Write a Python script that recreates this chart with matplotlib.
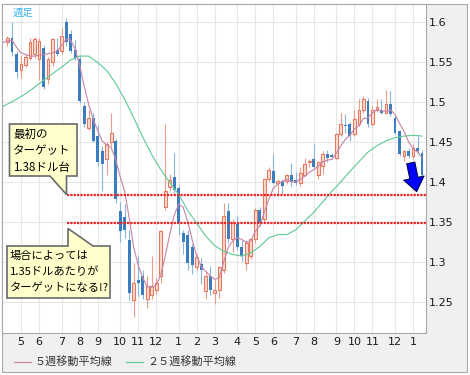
import numpy as np
import matplotlib
matplotlib.use('Agg')
import matplotlib.pyplot as plt
from matplotlib.patches import Rectangle, Polygon
from matplotlib.lines import Line2D

plt.rcParams['font.family'] = ['Noto Sans CJK JP', 'DejaVu Sans']

# ── weekly candles (index 0 = week of 2008/4/14) ──
opens = [1.574, 1.580, 1.560, 1.540, 1.546, 1.555, 1.560, 1.553, 1.567, 1.528,
         1.549, 1.565, 1.563, 1.599, 1.584, 1.565, 1.553, 1.494, 1.467, 1.480,
         1.457, 1.438, 1.428, 1.449, 1.451, 1.363, 1.356, 1.327, 1.252, 1.277,
         1.282, 1.253, 1.259, 1.265, 1.282, 1.369, 1.394, 1.406, 1.392, 1.336,
         1.333, 1.319, 1.294, 1.297, 1.263, 1.282, 1.261, 1.265, 1.290, 1.363,
         1.328, 1.347, 1.319, 1.298, 1.307, 1.328, 1.365, 1.353, 1.403, 1.413,
         1.398, 1.401, 1.401, 1.408, 1.402, 1.399, 1.409, 1.424, 1.428, 1.409,
         1.420, 1.434, 1.433, 1.430, 1.459, 1.471, 1.472, 1.459, 1.472, 1.490,
         1.501, 1.472, 1.489, 1.490, 1.486, 1.497, 1.480, 1.463, 1.432, 1.438,
         1.432, 1.442, 1.436]
highs = [1.582, 1.600, 1.563, 1.558, 1.560, 1.579, 1.581, 1.579, 1.571, 1.556,
         1.580, 1.580, 1.592, 1.604, 1.590, 1.577, 1.557, 1.500, 1.490, 1.486,
         1.471, 1.444, 1.449, 1.486, 1.453, 1.375, 1.372, 1.340, 1.298, 1.307,
         1.290, 1.282, 1.307, 1.280, 1.340, 1.472, 1.410, 1.436, 1.396, 1.340,
         1.340, 1.322, 1.310, 1.305, 1.288, 1.295, 1.277, 1.295, 1.374, 1.374,
         1.353, 1.357, 1.327, 1.327, 1.330, 1.367, 1.369, 1.405, 1.418, 1.434,
         1.403, 1.403, 1.410, 1.423, 1.412, 1.418, 1.430, 1.428, 1.447, 1.426,
         1.438, 1.440, 1.436, 1.461, 1.486, 1.485, 1.474, 1.490, 1.503, 1.507,
         1.505, 1.494, 1.503, 1.503, 1.515, 1.513, 1.484, 1.465, 1.440, 1.442,
         1.447, 1.457, 1.440]
lows = [1.570, 1.557, 1.530, 1.529, 1.543, 1.552, 1.555, 1.527, 1.516, 1.522,
        1.545, 1.557, 1.560, 1.570, 1.561, 1.552, 1.498, 1.468, 1.465, 1.449,
        1.420, 1.388, 1.409, 1.445, 1.374, 1.325, 1.330, 1.252, 1.231, 1.257,
        1.253, 1.242, 1.253, 1.260, 1.274, 1.365, 1.388, 1.386, 1.333, 1.310,
        1.290, 1.285, 1.290, 1.272, 1.253, 1.259, 1.247, 1.255, 1.286, 1.324,
        1.312, 1.315, 1.301, 1.290, 1.304, 1.324, 1.345, 1.349, 1.401, 1.397,
        1.382, 1.385, 1.397, 1.395, 1.396, 1.395, 1.407, 1.418, 1.416, 1.404,
        1.410, 1.424, 1.428, 1.428, 1.457, 1.461, 1.451, 1.457, 1.469, 1.486,
        1.468, 1.469, 1.487, 1.484, 1.484, 1.482, 1.459, 1.432, 1.426, 1.429,
        1.428, 1.436, 1.406]
closes = [1.579, 1.562, 1.537, 1.547, 1.556, 1.575, 1.578, 1.576, 1.518, 1.553,
          1.578, 1.559, 1.582, 1.574, 1.563, 1.555, 1.501, 1.472, 1.480, 1.451,
          1.424, 1.422, 1.447, 1.461, 1.378, 1.338, 1.340, 1.261, 1.273, 1.274,
          1.259, 1.270, 1.270, 1.274, 1.338, 1.389, 1.402, 1.390, 1.350, 1.325,
          1.298, 1.296, 1.306, 1.290, 1.282, 1.265, 1.265, 1.293, 1.357, 1.328,
          1.349, 1.318, 1.307, 1.324, 1.328, 1.365, 1.349, 1.403, 1.415, 1.399,
          1.401, 1.395, 1.408, 1.400, 1.398, 1.411, 1.422, 1.426, 1.418, 1.424,
          1.434, 1.430, 1.431, 1.459, 1.472, 1.469, 1.457, 1.478, 1.490, 1.503,
          1.472, 1.490, 1.493, 1.486, 1.497, 1.484, 1.461, 1.434, 1.438, 1.432,
          1.442, 1.438, 1.409]

# 5週移動平均線, weeks -1..92
ma5 = [1.574, 1.576, 1.577, 1.568, 1.561, 1.559, 1.557, 1.557, 1.558, 1.559, 1.560,
       1.561, 1.563, 1.570, 1.578, 1.577, 1.566, 1.546, 1.520, 1.497, 1.478,
       1.464, 1.451, 1.446, 1.443, 1.428, 1.406, 1.388, 1.355, 1.318, 1.296,
       1.280, 1.269, 1.268, 1.271, 1.283, 1.307, 1.334, 1.358, 1.372, 1.368,
       1.350, 1.327, 1.307, 1.294, 1.288, 1.282, 1.278, 1.280, 1.300, 1.318,
       1.326, 1.330, 1.328, 1.324, 1.326, 1.338, 1.345, 1.362, 1.378, 1.392,
       1.397, 1.400, 1.403, 1.400, 1.400, 1.403, 1.407, 1.412, 1.415, 1.420,
       1.425, 1.427, 1.428, 1.436, 1.445, 1.453, 1.458, 1.466, 1.470, 1.479,
       1.480, 1.486, 1.490, 1.489, 1.488, 1.490, 1.484, 1.473, 1.463, 1.450,
       1.441, 1.437, 1.430]
ma5_week = list(range(-1, 93))

# 25週移動平均線
ma25_week = [-1, 2, 4, 6, 9, 12, 14, 16, 18, 20, 22, 24, 26, 28, 30, 32, 34, 36, 38,
             40, 42, 44, 46, 48, 50, 52, 54, 56, 58, 60, 62, 64, 66, 68, 70, 72, 74,
             76, 78, 80, 82, 84, 86, 88, 90, 92]
ma25 = [1.494, 1.503, 1.510, 1.518, 1.531, 1.543, 1.552, 1.557, 1.557, 1.549, 1.539,
        1.523, 1.503, 1.480, 1.456, 1.434, 1.415, 1.399, 1.384, 1.364, 1.348, 1.332,
        1.320, 1.313, 1.309, 1.307, 1.311, 1.319, 1.330, 1.334, 1.334, 1.340, 1.351,
        1.362, 1.375, 1.388, 1.400, 1.413, 1.425, 1.437, 1.445, 1.451, 1.455, 1.457,
        1.458, 1.457]

month_week = [3, 7, 12, 16, 20, 25, 29, 33, 38, 42, 46, 51, 55, 59, 64, 68, 73, 77, 81, 86, 90]
month_lbl = ['5', '6', '7', '8', '9', '10', '11', '12', '1', '2', '3', '4',
             '5', '6', '7', '8', '9', '10', '11', '12', '1']
price_ticks = [1.25, 1.3, 1.35, 1.4, 1.45, 1.5, 1.55, 1.6]
price_lbl = ['1.25', '1.3', '1.35', '1.4', '1.45', '1.5', '1.55', '1.6']
target_levels = [1.384, 1.349]

UP_EDGE, UP_FILL, UP_WICK = '#e27a62', '#fbdcd1', '#eb9c8b'
DN_BODY, DN_WICK = '#3b7dbf', '#86b5dd'
MA5_COL, MA25_COL = '#c888a8', '#66cc99'

W, H = 470, 375
def px(x, y):
    return (x / W, 1 - y / H)

fig = plt.figure(figsize=(4.7, 3.75), dpi=100, facecolor='white')
fig.patches.append(Rectangle(px(2, 372), 465 / W, 368 / H, transform=fig.transFigure,
                             facecolor='#f0f0f0', edgecolor='#a8a8a8', lw=0.8, zorder=-5))
ax = fig.add_axes([2 / W, 42 / H, 424 / W, 329 / H])
ax.set_facecolor('white')

wk = np.arange(len(opens))
o, h, l, c = map(np.array, (opens, highs, lows, closes))
up = c >= o

# candles
ax.vlines(wk[up], l[up], h[up], color=UP_WICK, lw=0.8, zorder=2)
ax.vlines(wk[~up], l[~up], h[~up], color=DN_WICK, lw=0.8, zorder=2)
ax.bar(wk[up], c[up] - o[up], bottom=o[up], width=0.64, facecolor=UP_FILL,
       edgecolor=UP_EDGE, lw=0.8, zorder=3)
ax.bar(wk[~up], o[~up] - c[~up], bottom=c[~up], width=0.64, color=DN_BODY, lw=0, zorder=3)

# moving averages
ax.plot(ma25_week, ma25, color=MA25_COL, lw=0.85, zorder=4)
ax.plot(ma5_week, ma5, color=MA5_COL, lw=0.85, zorder=4)

x0, x1 = -1.22, 92.88
ax.hlines(target_levels, 13.2, x1, color='#ee2222', lw=1.6,
          linestyles=[(0, (1, 0.5))], zorder=5)

ax.annotate('', xy=(90.81, 1.3875), xytext=(89.5, 1.4235),
            arrowprops=dict(arrowstyle='simple,head_width=1.5,head_length=1.0,tail_width=0.6',
                            fc='#0000ff', ec='#000040', lw=0.7, shrinkA=0, shrinkB=0),
            zorder=6)

ax.set_xlim(x0, x1)
ax.set_ylim(1.2109, 1.6221)
ax.set_xticks(month_week)
ax.set_xticklabels(month_lbl, family='DejaVu Sans')
ax.set_yticks(price_ticks)
ax.set_yticklabels(price_lbl, family='DejaVu Sans')
ax.yaxis.tick_right()
ax.tick_params(axis='both', length=0, labelsize=8, labelcolor='#1a1a1a')
ax.tick_params(axis='y', pad=2)
ax.tick_params(axis='x', pad=3)
ax.grid(True, color='#e6e6e6', lw=0.8, zorder=0)
ax.set_axisbelow(True)
for s in ax.spines.values():
    s.set_color('#a8a8a8')
    s.set_linewidth(0.8)

# labels and callouts
fig.text(*px(13, 12.5), '週足', color='#3cb4f0', fontsize=7.5, va='center')

box1 = [(9.5, 124), (77, 124), (77, 176), (66.5, 176), (66.5, 194.5), (50, 176), (9.5, 176)]
box2 = [(7, 246), (68, 246), (68, 228.5), (93, 246), (110, 246), (110, 298), (7, 298)]
for b in (box1, box2):
    fig.patches.append(Polygon([px(x, y) for x, y in b], closed=True, transform=fig.transFigure,
                               facecolor='#ffffcc', edgecolor='#6a6a6a', lw=1.2, zorder=10))
for txt, y in zip(['最初の', 'ターゲット', '1.38ドル台'], [134, 151, 167]):
    fig.text(*px(13, y), txt, fontsize=8.3, va='center', zorder=11)
for txt, y in zip(['場合によっては', '1.35ドルあたりが', 'ターゲットになる!?'], [256, 272, 287.5]):
    fig.text(*px(10, y), txt, fontsize=8.1, va='center', zorder=11)

# legend
fig.lines.append(Line2D([14 / W, 31 / W], [1 - 361.5 / H] * 2, transform=fig.transFigure,
                        color=MA5_COL, lw=0.9))
fig.text(*px(35, 361.5), '５週移動平均線', fontsize=8, va='center', color='#333333')
fig.lines.append(Line2D([126 / W, 143 / W], [1 - 361.5 / H] * 2, transform=fig.transFigure,
                        color=MA25_COL, lw=0.9))
fig.text(*px(147, 361.5), '２５週移動平均線', fontsize=8, va='center', color='#333333')

fig.savefig('out.png', dpi=100, facecolor=fig.get_facecolor())
